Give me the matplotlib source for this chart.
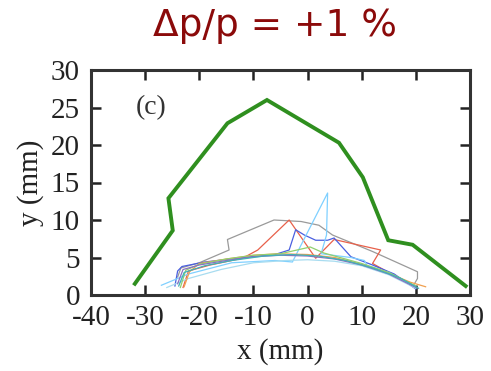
import matplotlib
matplotlib.use("Agg")
import matplotlib.pyplot as plt

plt.rcParams["axes.unicode_minus"] = False

# Thick green envelope
env_x = [-31.9, -24.9, -25.7, -14.8, -7.5, 5.8, 10.2, 14.9, 19.4, 29.2]
env_y = [1.5, 8.6, 12.9, 22.9, 26.0, 20.3, 15.7, 7.3, 6.7, 1.2]

# Thin trajectories (x, y, colour)
gray_x = [-24.0, -23.4, -20, -14.5, -14.8, -6.2, -1.2, 2.1, 4.6, 12, 20.3, 20.3, 19.5]
gray_y = [2.4, 3.6, 4.3, 6.0, 7.4, 10.0, 9.8, 9.3, 8.0, 5.8, 3.1, 2.2, 1.2]

red_x = [-23.0, -22.0, -18, -12, -9.2, -3.4, 1.5, 4.9, 13.5, 12.0, 15, 19.5]
red_y = [1.0, 3.2, 4.0, 4.9, 6.0, 10.0, 4.9, 7.4, 6.0, 4.2, 3.0, 1.3]

blue_x = [-24.5, -24.0, -23.2, -19, -12, -6, -3.4, -2.2, -0.6, 1.5, 3.7, 4.9, 8.0, 12, 16, 20.0]
blue_y = [1.2, 3.2, 3.8, 4.4, 5.0, 5.4, 6.0, 8.7, 8.0, 7.3, 7.3, 7.6, 5.1, 4.0, 2.8, 0.8]

lblue_x = [-27.0, -22, -14, -6, -2.8, 3.7, 3.5, 2.5, 8, 10.5, 11.0, 15, 19.8]
lblue_y = [1.3, 2.8, 4.3, 4.6, 4.4, 13.6, 8.0, 5.5, 5.0, 4.6, 3.9, 3.0, 1.0]

cyan_x = [-26.0, -22, -16, -10, -4, 0, 5, 10, 15, 20.0]
cyan_y = [1.0, 2.2, 3.4, 4.3, 4.6, 4.7, 4.5, 3.9, 2.7, 0.9]

orange_x = [-22.8, -21.8, -20, -15, -10, -5.5, 0, 5, 10, 15, 19, 21.8]
orange_y = [1.1, 3.1, 4.2, 4.8, 5.3, 5.5, 5.4, 5.0, 4.1, 2.9, 1.7, 1.1]

green_x = [-23.5, -22.5, -20, -15, -10, -5, 0.5, 3, 6, 10, 15, 20.0]
green_y = [1.0, 3.3, 4.1, 4.8, 5.3, 5.5, 6.4, 5.6, 5.0, 4.2, 3.0, 1.2]

purple_x = [-24.0, -23.0, -20, -15, -10, -5, 0, 5, 10, 15, 20.0]
purple_y = [1.5, 3.4, 4.0, 4.6, 5.1, 5.3, 5.2, 4.8, 4.0, 2.8, 1.0]

teal_x = [-23.8, -22.8, -19, -14, -8, -3, 2, 7, 12, 17, 20.5]
teal_y = [1.2, 3.0, 3.9, 4.6, 5.2, 5.4, 5.2, 4.6, 3.6, 2.3, 0.9]

thin = [
    (gray_x, gray_y, "#9a9a9a"),
    (red_x, red_y, "#e8604a"),
    (blue_x, blue_y, "#4a5fe0"),
    (lblue_x, lblue_y, "#7fd0ff"),
    (cyan_x, cyan_y, "#a8dcf0"),
    (orange_x, orange_y, "#f0a050"),
    (green_x, green_y, "#90d070"),
    (purple_x, purple_y, "#8a70c0"),
    (teal_x, teal_y, "#40b0b8"),
]

xticks = [-40, -30, -20, -10, 0, 10, 20, 30]
yticks = [0, 5, 10, 15, 20, 25, 30]

fig = plt.figure(figsize=(4.91, 3.71), dpi=100)
ax = fig.add_axes([91/491, 1-295/371, (470-91)/491, (295-70)/371])

for xs, ys, c in thin:
    ax.plot(xs, ys, color=c, lw=0.9)
ax.plot(env_x, env_y, color="#2f8f1f", lw=2.8, solid_joinstyle="miter")

ax.set_xlim(-40, 30)
ax.set_ylim(0, 30)
ax.set_xticks(xticks)
ax.set_yticks(yticks)

serif = "Liberation Serif"
for lab in ax.get_xticklabels() + ax.get_yticklabels():
    lab.set_fontfamily(serif)
    lab.set_fontsize(21)
ax.tick_params(direction="in", length=7, width=1.8, color="#222222",
               top=True, right=True, labelcolor="#222222")
ax.tick_params(axis="x", pad=7)
ax.tick_params(axis="y", pad=8)
for s in ax.spines.values():
    s.set_linewidth(2.2)
    s.set_color("#333333")

ax.set_xlabel("x (mm)", fontfamily=serif, fontsize=21, color="#222222", labelpad=5)
ax.set_ylabel("y (mm)", fontfamily=serif, fontsize=21, color="#222222", labelpad=5)
ax.text(-28.9, 25.0, "(c)", fontfamily=serif, fontsize=20, color="#333333",
        ha="center", va="center")

fig.text(275/491, 1-26/371, "Δp/p = +1 %", ha="center", va="center",
         fontsize=27, color="#8b0a0a", fontfamily="DejaVu Sans")

fig.savefig("out.png", dpi=100)
